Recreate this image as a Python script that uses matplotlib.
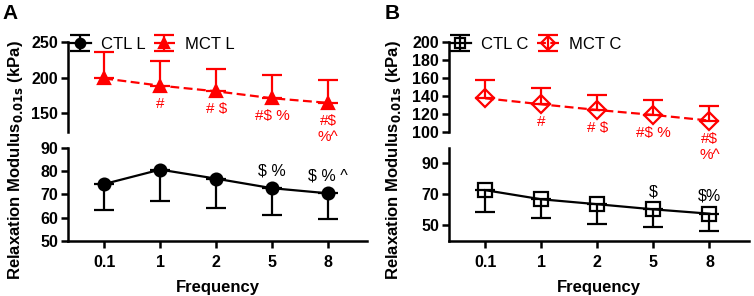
import matplotlib.pyplot as plt

plt.rcParams['font.family'] = ['Liberation Sans', 'DejaVu Sans']

freqs = ['0.1', '1', '2', '5', '8']
x = list(range(len(freqs)))

# panel A (L)
ctl_l = [74.5, 80.7, 76.8, 72.7, 70.5]
ctl_l_err = [11.0, 13.7, 12.6, 11.7, 11.2]
mct_l = [199.0, 188.9, 181.0, 171.3, 164.8]
mct_l_err = [37.5, 34.7, 31.5, 32.7, 31.5]

# panel B (C)
ctl_c = [72.8, 66.9, 63.7, 60.4, 57.6]
ctl_c_err = [14.1, 12.3, 12.6, 11.4, 10.9]
mct_c = [137.5, 130.8, 124.5, 119.0, 112.7]
mct_c_err = [20.2, 17.7, 16.3, 16.6, 16.3]

# significance marks
mct_l_marks = ['', '#', '# $', '#$ %', '#$\n%^']
ctl_l_marks = ['', '', '', '$ %', '$ % ^']
mct_c_marks = ['', '#', '# $', '#$ %', '#$\n%^']
ctl_c_marks = ['', '', '', '$', '$%']

RED = '#ff0000'

fig = plt.figure(figsize=(7.54, 2.96), dpi=100)


def style_axes(ax_top, ax_bot):
    for ax in (ax_top, ax_bot):
        ax.spines['top'].set_visible(False)
        ax.spines['right'].set_visible(False)
        ax.spines['left'].set_linewidth(1.8)
        ax.spines['bottom'].set_linewidth(1.8)
        ax.tick_params(width=1.8, length=5, labelsize=11.5, pad=2)
        for lab in ax.get_yticklabels() + ax.get_xticklabels():
            lab.set_fontweight('bold')
        ax.set_xlim(-0.65, 4.7)
        ax.set_facecolor('none')
    ax_top.spines['bottom'].set_visible(False)
    ax_top.tick_params(axis='x', bottom=False, labelbottom=False)
    ax_bot.set_xticks(x)
    ax_bot.set_xticklabels(freqs, fontweight='bold')
    ax_bot.tick_params(axis='x', pad=5)
    ax_bot.set_xlabel('Frequency', fontsize=12, fontweight='bold', labelpad=7)


def panel(left, width, ctl, ctl_err, mct, mct_err, ctl_lab, mct_lab,
          ctl_marker, mct_marker, top_lim, top_ticks, bot_lim, bot_ticks,
          mct_marks, ctl_marks, filled):
    ax_top = fig.add_axes([left, 0.554, width, 0.304])
    ax_bot = fig.add_axes([left, 0.186, width, 0.314])

    zeros = [0] * len(x)
    mfc_ctl = 'black' if filled else 'none'
    mfc_mct = RED if filled else 'none'
    ms = 8.5 if filled else 9.5

    h_ctl = ax_bot.errorbar(x, ctl, yerr=[ctl_err, zeros], color='black',
                            marker=ctl_marker, ms=ms, mfc=mfc_ctl, mew=1.6,
                            lw=1.6, capsize=7, capthick=1.6, elinewidth=1.6,
                            clip_on=False, zorder=3)
    h_mct = ax_top.errorbar(x, mct, yerr=[zeros, mct_err], color=RED,
                            marker=mct_marker, ms=ms, mfc=mfc_mct, mew=1.6,
                            lw=1.6, ls=(0, (4, 2)), capsize=7, capthick=1.6,
                            elinewidth=1.6, clip_on=False, zorder=3)
    ax_top.set_ylim(*top_lim)
    ax_top.set_yticks(top_ticks)
    ax_bot.set_ylim(*bot_lim)
    ax_bot.set_yticks(bot_ticks)
    ax_top.spines['left'].set_bounds(top_lim[0], top_ticks[-1])

    ax_top.legend([h_ctl, h_mct], [ctl_lab, mct_lab], loc='upper left',
                  bbox_to_anchor=(-0.03, 1.17), ncol=2, frameon=False,
                  fontsize=12, handlelength=1.3, handletextpad=0.6,
                  columnspacing=0.5, borderaxespad=0.2, markerscale=0.8)

    # red marks below MCT points, one annotation per line
    for xi, yi, s in zip(x, mct, mct_marks):
        for i, line in enumerate(s.split('\n')):
            if line:
                ax_top.annotate(line, (xi, yi), xytext=(0, -8 - 11.5 * i),
                                textcoords='offset points', ha='center',
                                va='top', color=RED, fontsize=11,
                                annotation_clip=False)
    for xi, yi, s in zip(x, ctl, ctl_marks):
        if s:
            ax_bot.annotate(s, (xi, yi), xytext=(0, 7), textcoords='offset points',
                            ha='center', va='bottom', color='black', fontsize=11.5,
                            annotation_clip=False)

    style_axes(ax_top, ax_bot)
    return ax_top, ax_bot


panel(0.090, 0.397, ctl_l, ctl_l_err, mct_l, mct_l_err, 'CTL L', 'MCT L',
      'o', '^', (124, 250), [150, 200, 250], (50, 90), [50, 60, 70, 80, 90],
      mct_l_marks, ctl_l_marks, True)
panel(0.595, 0.398, ctl_c, ctl_c_err, mct_c, mct_c_err, 'CTL C', 'MCT C',
      's', 'D', (100, 200), [100, 120, 140, 160, 180, 200], (40, 100),
      [50, 70, 90], mct_c_marks, ctl_c_marks, False)

ylab = 'Relaxation Modulus$_{\\mathbf{0.01s}}$ (kPa)'
fig.text(0.02, 0.46, ylab, rotation=90, ha='center', va='center',
         fontsize=12, fontweight='bold')
fig.text(0.522, 0.46, ylab, rotation=90, ha='center', va='center',
         fontsize=12, fontweight='bold')
fig.text(0.003, 0.985, 'A', fontsize=15, fontweight='bold', va='top')
fig.text(0.510, 0.985, 'B', fontsize=15, fontweight='bold', va='top')

fig.savefig('out.png', dpi=100)
